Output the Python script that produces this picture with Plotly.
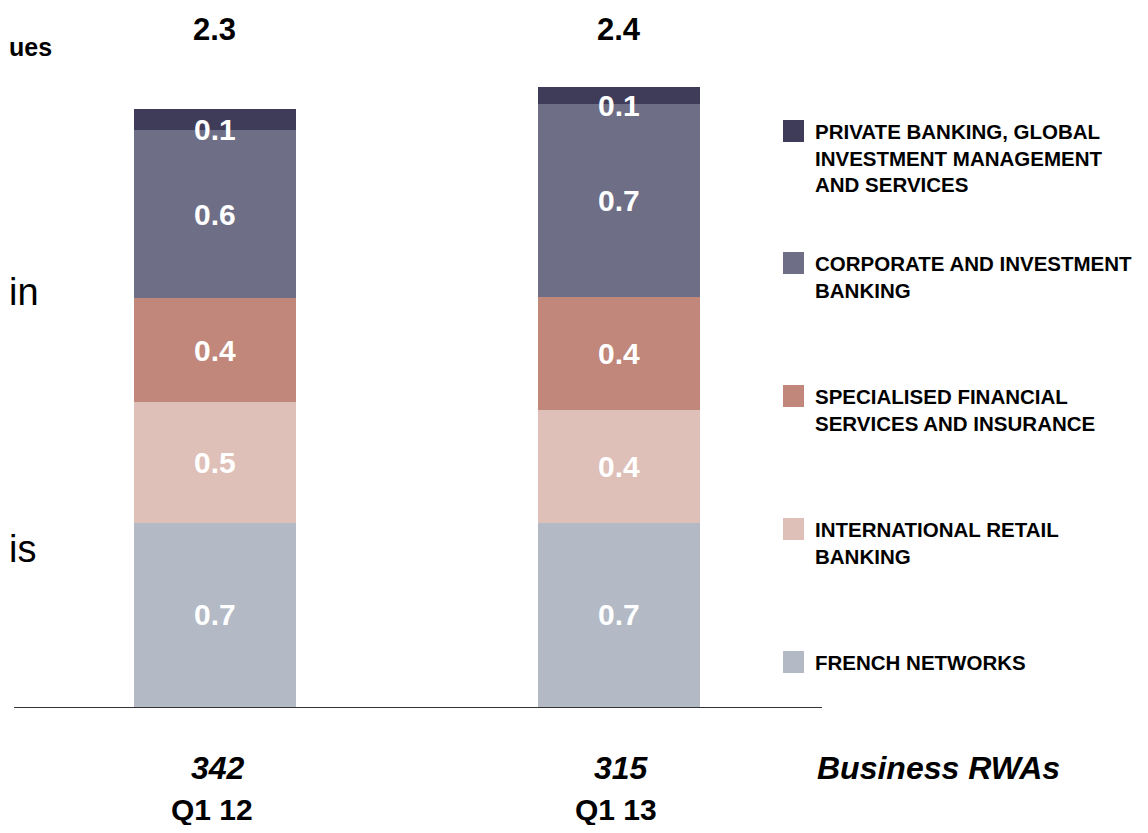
import plotly.graph_objects as go

# data (heights in EUR bn, stacked bottom -> top)
periods = ['Q1 12', 'Q1 13']
business_rwas = ['342', '315']
segments = [
    'FRENCH NETWORKS',
    'INTERNATIONAL RETAIL<br>BANKING',
    'SPECIALISED FINANCIAL<br>SERVICES AND INSURANCE',
    'CORPORATE AND INVESTMENT<br>BANKING',
    'PRIVATE BANKING, GLOBAL<br>INVESTMENT MANAGEMENT<br>AND SERVICES',
]
french_networks = [0.708, 0.708]
intl_retail = [0.465, 0.435]
specialised_fs = [0.400, 0.435]
cib = [0.646, 0.742]
private_banking = [0.081, 0.065]
series = [french_networks, intl_retail, specialised_fs, cib, private_banking]
colors = ['#b3bac6', '#dec0b8', '#c0877a', '#6e6e86', '#3f3c5a']

FONT = 'Liberation Sans, Arial, sans-serif'
OFF = 8  # page body margin
W, H = 1148 - 2 * OFF, 833 - 2 * OFF
ML, MT = 14 - OFF, 20 - OFF
MR = W - (822 - OFF)
MB = H - (707 - OFF)
PW, PH = W - ML - MR, H - MT - MB


def px_x(p):
    return (p - OFF - ML) / PW


def px_y(p):
    return (H - MB - (p - OFF)) / PH


fig = go.Figure()
for name, vals, col in zip(segments, series, colors):
    fig.add_trace(go.Bar(x=periods, y=vals, name=name.replace('<br>', ' '),
                         marker=dict(color=col, line=dict(width=0)),
                         width=0.4, showlegend=False))

annotations = []
# segment labels
base = [0.0] * len(periods)
for k, vals in enumerate(series):
    for i, v in enumerate(vals):
        annotations.append(dict(
            x=periods[i], y=base[i] + v / 2, xref='x', yref='y',
            text=f'{v:.1f}', showarrow=False,
            yshift=-10 if k == len(series) - 1 else 0,
            font=dict(family=FONT, size=30, color='white', weight='bold')))
        base[i] += v

# totals on top, RWAs and period labels below
for i, p in enumerate(periods):
    annotations.append(dict(x=p, y=px_y(29), xref='x', yref='paper', yanchor='middle',
                            text=f'{base[i]:.1f}', showarrow=False,
                            font=dict(family=FONT, size=31, color='black', weight='bold')))
    annotations.append(dict(x=p, y=px_y(768), xref='x', yref='paper', yanchor='middle',
                            text=f'<i>{business_rwas[i]}</i>', showarrow=False, xshift=3,
                            font=dict(family=FONT, size=32, color='black', weight='bold')))
    annotations.append(dict(x=p, y=px_y(809), xref='x', yref='paper', yanchor='middle',
                            text=p, showarrow=False, xshift=-3,
                            font=dict(family=FONT, size=30, color='black', weight='bold')))

annotations.append(dict(x=px_x(815), y=px_y(768), xref='paper', yref='paper',
                        xanchor='left', yanchor='middle', text='<i>Business RWAs</i>',
                        showarrow=False,
                        font=dict(family=FONT, size=32, color='black', weight='bold')))

# legend (drawn by hand, top item first as on the slide)
shapes = []
tops = [651, 518, 385, 252, 120]
for name, col, top in zip(segments, colors, tops):
    shapes.append(dict(type='rect', xref='paper', yref='paper',
                       x0=px_x(783), x1=px_x(804), y0=px_y(top + 22), y1=px_y(top),
                       fillcolor=col, line=dict(width=0)))
    annotations.append(dict(x=px_x(813), y=px_y(top - 2), xref='paper', yref='paper',
                            xanchor='left', yanchor='top', align='left', text=name,
                            showarrow=False,
                            font=dict(family=FONT, size=20.5, color='black', weight='bold')))

# text fragments cut off at the slide's left edge
for txt, yc, size, bold in [('ues', 47, 25, True), ('in', 292, 38, False), ('is', 549, 38, False)]:
    annotations.append(dict(x=px_x(7), y=px_y(yc), xref='paper', yref='paper',
                            xanchor='left', yanchor='middle', text=txt, showarrow=False,
                            font=dict(family=FONT, size=size, color='black',
                                      weight='bold' if bold else 'normal')))

fig.update_layout(
    width=W, height=H, barmode='stack',
    margin=dict(l=ML, r=MR, t=MT, b=MB),
    paper_bgcolor='white', plot_bgcolor='white',
    xaxis=dict(range=[-0.4975, 1.5025], showticklabels=False, showgrid=False,
               zeroline=False, showline=True, linecolor='#333333', linewidth=1, ticks=''),
    yaxis=dict(range=[0, PH / 260], visible=False, showgrid=False, zeroline=False),
    annotations=annotations, shapes=shapes,
    font=dict(family=FONT),
)

fig.write_html('out.html')
